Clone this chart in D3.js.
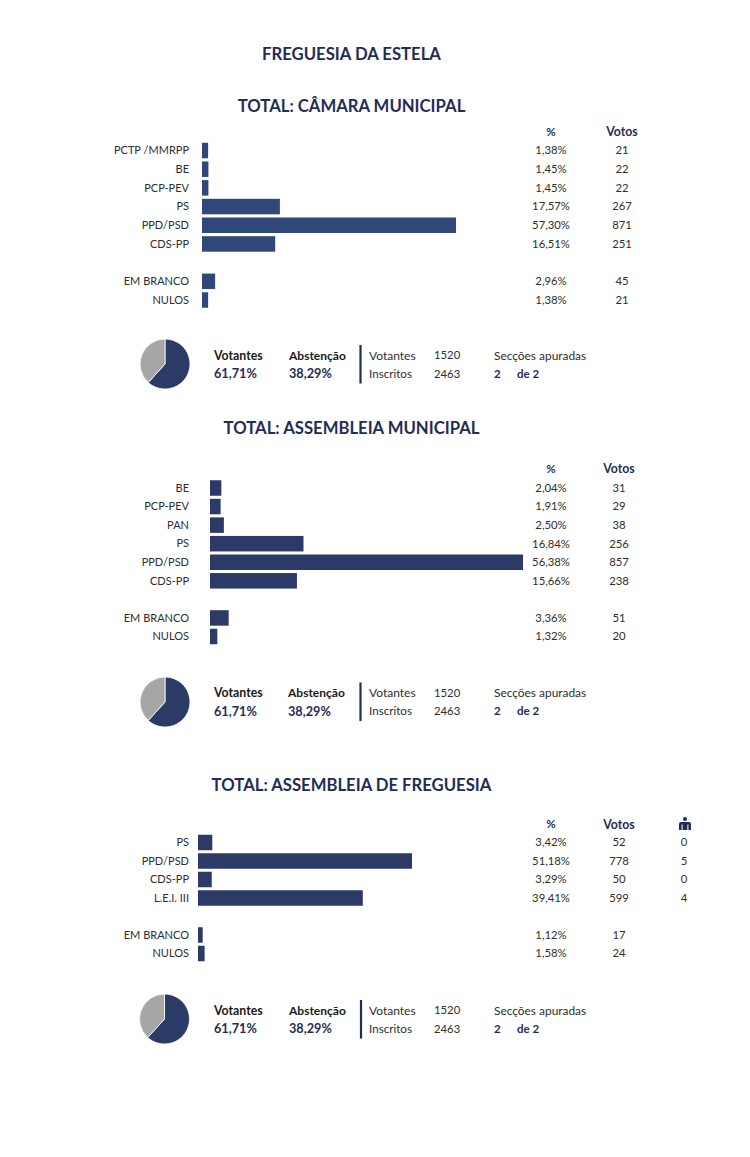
<!DOCTYPE html>
<html><head><meta charset="utf-8">
<script src="https://cdn.jsdelivr.net/npm/d3@7/dist/d3.min.js"></script>
<style>html,body{margin:0;background:#fff}svg{display:block;font-family:Lato,"Open Sans",sans-serif}</style>
</head><body><svg id="c" width="750" height="1157"></svg>
<script>
const mainTitle = "FREGUESIA DA ESTELA";
const camaraTitle = "TOTAL: CÂMARA MUNICIPAL";
const camaraParties = ["PCTP /MMRPP","BE","PCP-PEV","PS","PPD/PSD","CDS-PP","","EM BRANCO","NULOS"];
const camaraPct = [1.38,1.45,1.45,17.57,57.30,16.51,null,2.96,1.38];
const camaraVotes = [21,22,22,267,871,251,null,45,21];
const assembleiaTitle = "TOTAL: ASSEMBLEIA MUNICIPAL";
const assembleiaParties = ["BE","PCP-PEV","PAN","PS","PPD/PSD","CDS-PP","","EM BRANCO","NULOS"];
const assembleiaPct = [2.04,1.91,2.50,16.84,56.38,15.66,null,3.36,1.32];
const assembleiaVotes = [31,29,38,256,857,238,null,51,20];
const freguesiaTitle = "TOTAL: ASSEMBLEIA DE FREGUESIA";
const freguesiaParties = ["PS","PPD/PSD","CDS-PP","L.E.I. III","","EM BRANCO","NULOS"];
const freguesiaPct = [3.42,51.18,3.29,39.41,null,1.12,1.58];
const freguesiaVotes = [52,778,50,599,null,17,24];
const freguesiaSeats = [0,5,0,4,null,null,null];
const turnout = [61.71,38.29];
const votantes = 1520, inscritos = 2463, seccoes = 2, seccoesTotal = 2;

const svg = d3.select("#c");
const NAVY = "#1f2d56", TXT = "#2e2e2e";
const fmt = v => v.toFixed(2).replace(".", ",") + "%";
function text(x,y,s,o={}){
  return svg.append("text").attr("x",x).attr("y",y+1.5).attr("text-anchor",o.a||"start")
    .attr("dominant-baseline","middle").attr("font-size",o.s||11.2)
    .attr("font-weight",o.w||400).attr("fill",o.c||TXT).text(s);
}
[[mainTitle,54],[camaraTitle,106],[assembleiaTitle,428],[freguesiaTitle,785]].forEach(([t,y])=>
  text(351.5,y,t,{a:"middle",s:16.7,w:700,c:NAVY}));

function panel(p){
  const y = d3.scalePoint().domain(d3.range(p.parties.length)).range([p.y0,p.y1]);
  const x = d3.scaleLinear().domain([0,p.maxPct]).range([p.x0,p.xMax]);
  const h = 15.5;
  text(p.pctX,p.headY,"%",{a:"middle",w:700,c:NAVY,s:11.5});
  text(p.votesHeadX,p.headY,"Votos",{a:"middle",w:700,c:NAVY,s:12.3});
  p.parties.forEach((name,i)=>{
    if(p.pct[i]==null) return;
    text(189,y(i)-0.5,name,{a:"end",s:11});
    svg.append("rect").attr("x",x(0)).attr("y",y(i)-h/2)
      .attr("width",x(p.pct[i])-x(0)).attr("height",h).attr("fill",p.color);
    text(p.pctX,y(i)-0.5,fmt(p.pct[i]),{a:"middle",s:11.3});
    text(p.votesX,y(i)-0.5,p.votes[i],{a:"middle",s:11.3});
    if(p.seats&&p.seats[i]!=null) text(p.seatX,y(i)-0.5,p.seats[i],{a:"middle",s:11.3});
  });
  if(p.seats){
    const g = svg.append("g").attr("transform",`translate(${p.seatX+1},${p.headY})`).attr("fill",NAVY);
    g.append("circle").attr("cy",-5).attr("r",2);
    g.append("path").attr("d","M-6,6V0Q-6,-2 -4,-2H4Q6,-2 6,0V6H3.4V0.5H2.4V6H-2.4V0.5H-3.4V6Z");
  }
}
function stats(s){
  const pie = d3.pie().sort(null).value(d=>d)(turnout);
  const arc = d3.arc().innerRadius(0).outerRadius(25);
  const g = svg.append("g").attr("transform",`translate(${s.cx},${s.cy})`);
  g.selectAll("path").data(pie).join("path").attr("d",arc)
    .attr("fill",(d,i)=>i?"#a6a6a6":"#2a3b66").attr("stroke","#fff").attr("stroke-width",0.8);
  text(214,s.y1,"Votantes",{w:700,c:"#1a1a1a",s:12.3});
  text(s.absX,s.y1,"Abstenção",{w:700,c:"#1a1a1a",s:12});
  text(214,s.y2,fmt(turnout[0]),{w:700,c:NAVY,s:12.7});
  text(s.absX,s.y2,fmt(turnout[1]),{w:700,c:NAVY,s:12.7});
  svg.append("line").attr("x1",s.lx).attr("x2",s.lx).attr("y1",s.y1-10).attr("y2",s.y2+10)
    .attr("stroke",NAVY).attr("stroke-width",2.2);
  text(369,s.y1,"Votantes",{s:12}); text(434,s.y1,votantes,{s:11.3});
  text(369,s.y2,"Inscritos",{s:11.6}); text(434,s.y2,inscritos,{s:11.3});
  text(494,s.y1,"Secções apuradas",{s:11.9});
  text(494,s.y2,seccoes,{w:700,c:NAVY,s:11.5}); text(517,s.y2,"de "+seccoesTotal,{w:700,c:NAVY,s:11.5});
}
panel({parties:camaraParties,pct:camaraPct,votes:camaraVotes,y0:150.5,y1:300,x0:202,xMax:456,maxPct:57.30,color:"#2f4779",pctX:551,votesX:622,votesHeadX:622,headY:131.5});
panel({parties:assembleiaParties,pct:assembleiaPct,votes:assembleiaVotes,y0:488,y1:636.5,x0:210,xMax:523,maxPct:56.38,color:"#2b3a66",pctX:551,votesX:619,votesHeadX:619,headY:468.5});
panel({parties:freguesiaParties,pct:freguesiaPct,votes:freguesiaVotes,seats:freguesiaSeats,y0:842.5,y1:953.5,x0:198,xMax:412,maxPct:51.18,color:"#2b3a66",pctX:551,votesX:619,votesHeadX:619,seatX:684,headY:824});
stats({cx:165,cy:364,y1:355,y2:373.5,absX:289,lx:360.5});
stats({cx:165,cy:702,y1:692.5,y2:711,absX:288,lx:360.5});
stats({cx:164.5,cy:1019,y1:1010,y2:1028.5,absX:289,lx:361});
</script></body></html>
